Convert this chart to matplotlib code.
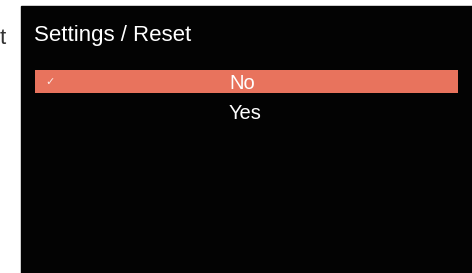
import matplotlib
matplotlib.use("Agg")
import matplotlib.pyplot as plt
from matplotlib.patches import Rectangle

plt.rcParams["font.family"] = ["Liberation Sans", "DejaVu Sans"]

# ---- menu content ----
title = "Settings / Reset"
options = ["No", "Yes"]
selected = [True, False]
cut_text = "t"

W, H = 472, 273
fig = plt.figure(figsize=(W / 100, H / 100), dpi=100)
ax = fig.add_axes([0, 0, 1, 1])
ax.set_xlim(0, W)
ax.set_ylim(H, 0)
ax.axis("off")
fig.patch.set_facecolor("white")

# screen panel
ax.add_patch(Rectangle((21, 6), W - 21, H - 6, color="#030303", zorder=1))

# clipped text left of the screen
ax.text(5.5, 44, cut_text, ha="right", va="baseline", fontsize=16, color="#333333")

ax.text(34, 41, title, ha="left", va="baseline", fontsize=16, color="white", zorder=3)

row_top = 70
row_h = 23
pitch = 30.5
for i, (opt, sel) in enumerate(zip(options, selected)):
    y0 = row_top + i * pitch
    if sel:
        ax.barh(y0 + row_h / 2, 458 - 35, height=row_h, left=35,
                color="#E8735D", zorder=2)
        ax.text(50.5, y0 + row_h / 2 + 0.5, "\u2713", ha="center", va="center",
                fontsize=8, color="white", alpha=0.85, zorder=3,
                family="DejaVu Sans")
    ax.text(229, y0 + 18.7, opt, ha="left", va="baseline", fontsize=14.5,
            color="white", zorder=3)

plt.savefig("out.png", dpi=100)
plt.close()
